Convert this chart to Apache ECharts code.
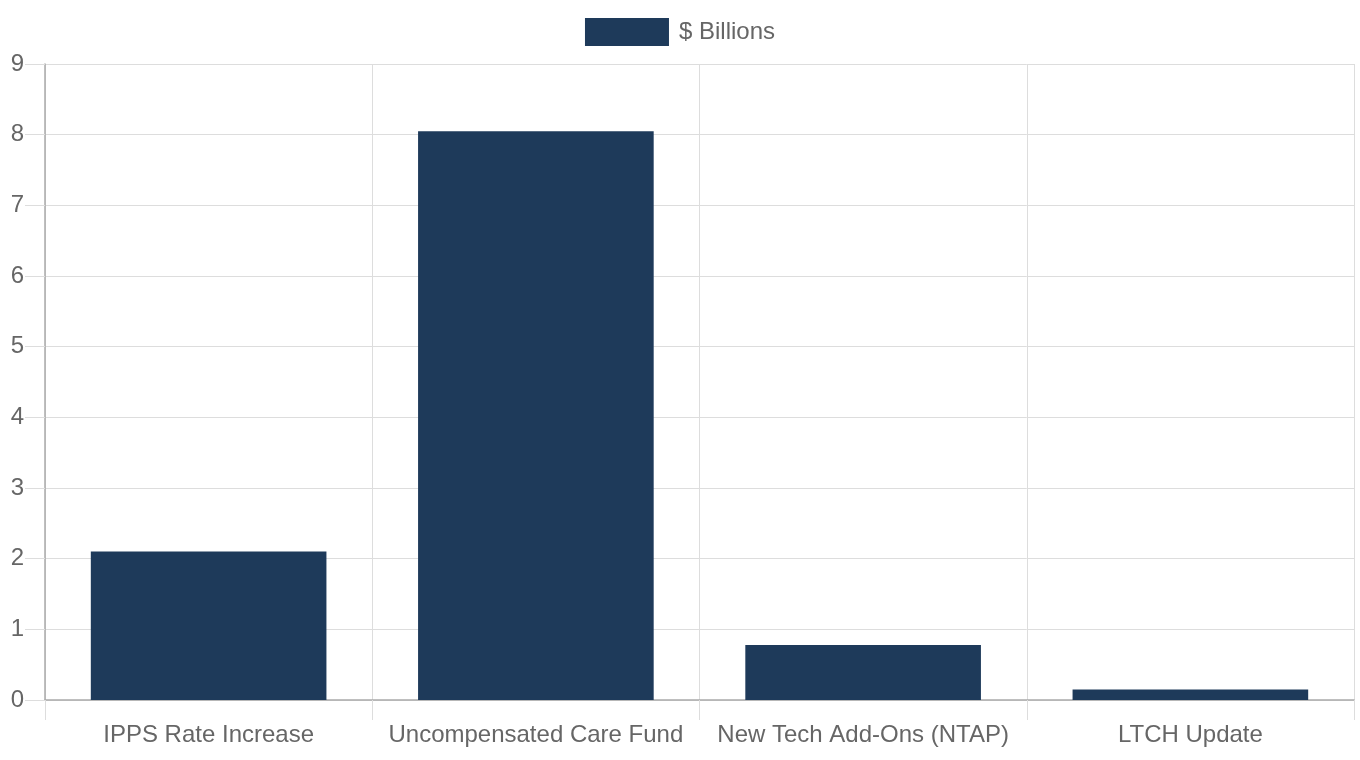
<!DOCTYPE html>
<html lang="en">
<head>
    <meta charset="utf-8">
    <title>$ Billions</title>
    <script src="https://cdn.jsdelivr.net/npm/echarts@6/dist/echarts.min.js"></script>
    <style>
        html, body { margin: 0; padding: 0; background: #fff; }
        #chart { width: 1360px; height: 760px; }
    </style>
</head>
<body>
<div id="chart"></div>
<script type="text/javascript">
    var categories = ['IPPS Rate Increase', 'Uncompensated Care Fund', 'New Tech Add-Ons (NTAP)', 'LTCH Update'];
    var billions = [2.1, 8.05, 0.78, 0.15];
    var seriesName = '$ Billions';

    var chart = echarts.init(document.getElementById('chart'));
    var fontFamily = '"Liberation Sans", Arial, sans-serif';

    chart.setOption({
        animation: false,
        legend: {
            data: [seriesName],
            top: 13,
            left: 'center',
            itemWidth: 84,
            itemHeight: 28,
            icon: 'rect',
            textStyle: {
                color: '#666',
                fontSize: 24,
                fontFamily: fontFamily,
                padding: [0, 0, 0, 5]
            }
        },
        grid: {
            left: 45,
            right: 6,
            top: 64,
            bottom: 60,
            containLabel: false
        },
        xAxis: {
            type: 'category',
            data: categories,
            boundaryGap: true,
            axisLine: { lineStyle: { color: '#aaa', width: 1.5 } },
            axisTick: { show: true, length: 20, alignWithLabel: false, lineStyle: { color: '#ddd' } },
            axisLabel: { color: '#666', fontSize: 24, fontFamily: fontFamily, margin: 23, interval: 0 },
            splitLine: { show: true, lineStyle: { color: '#ddd' } }
        },
        yAxis: {
            type: 'value',
            min: 0,
            max: 9,
            interval: 1,
            axisLine: { show: true, lineStyle: { color: '#aaa', width: 1.5 } },
            axisTick: { show: true, length: 20, lineStyle: { color: '#ddd' } },
            axisLabel: { color: '#666', fontSize: 24, fontFamily: fontFamily, margin: 21 },
            splitLine: { show: true, lineStyle: { color: '#ddd' } }
        },
        series: [{
            name: seriesName,
            type: 'bar',
            data: billions,
            barWidth: '72%',
            itemStyle: { color: '#1e3a5a' }
        }]
    });
</script>
</body>
</html>
